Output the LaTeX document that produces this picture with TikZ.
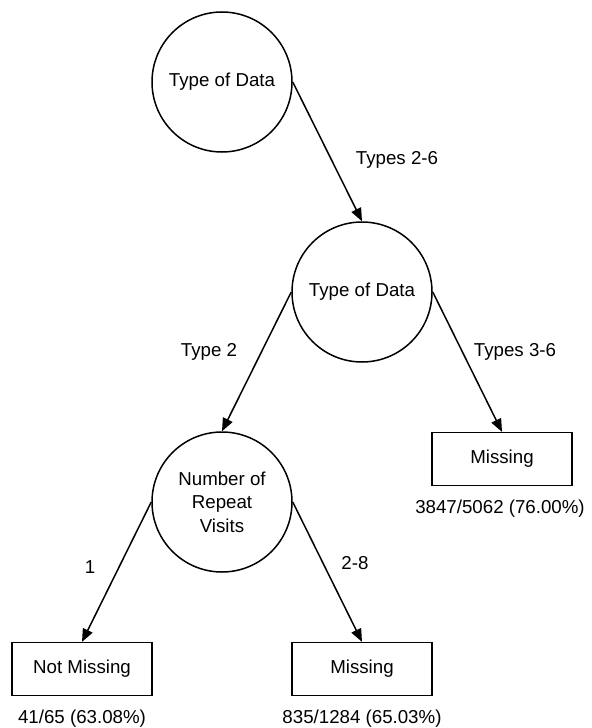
\documentclass[tikz,border=0pt]{standalone}
\usepackage{fontspec}
\setmainfont{Liberation Sans}
\usetikzlibrary{arrows.meta}
\begin{document}
\begin{tikzpicture}[
  x=1bp, y=-1bp,
  every node/.style={font=\fontsize{18.7bp}{23.5bp}\selectfont},
  decision/.style={draw, circle, minimum size=140bp, inner sep=0pt,
                   line width=1.5bp, align=center},
  leaf/.style={draw, rectangle, minimum width=140bp, minimum height=52.7bp,
               inner sep=0pt, line width=1.5bp},
  edge/.style={-{Triangle[length=13bp,width=10.5bp]}, line width=1.5bp},
  lbl/.style={inner sep=0pt}
]
\useasboundingbox (0,0) rectangle (592,728);

% split nodes
\node[decision] (root) at (222,82)  {Type of Data};
\node[decision] (kind) at (362,292) {Type of Data};
\node[decision] (visits) at (222,502) {Number of\\Repeat\\Visits};

% leaves
\node[leaf] (miss36) at (502,459) {Missing};
\node[leaf] (notmiss) at (82,669) {Not Missing};
\node[leaf] (miss28) at (362,669) {Missing};

% branches
\draw[edge] (root.east) -- (kind.north);
\draw[edge] (kind.west) -- (visits.north);
\draw[edge] (kind.east) -- (miss36.north);
\draw[edge] (visits.west) -- (notmiss.north);
\draw[edge] (visits.east) -- (miss28.north);

% branch labels
\node[lbl] (l26) at (397,160) {Types 2-6};
\node[lbl] (l2)  at (209,352) {Type 2};
\node[lbl] (l36) at (515,352) {Types 3-6};
\node[lbl] (l1)  at (90,567)  {1};
\node[lbl] (l28) at (355,563) {2-8};

% leaf counts
\node[lbl] (c36) at (500,509) {3847/5062 (76.00\%)};
\node[lbl] (cnm) at (82,719)  {41/65 (63.08\%)};
\node[lbl] (c28) at (362,719) {835/1284 (65.03\%)};
\end{tikzpicture}
\end{document}
